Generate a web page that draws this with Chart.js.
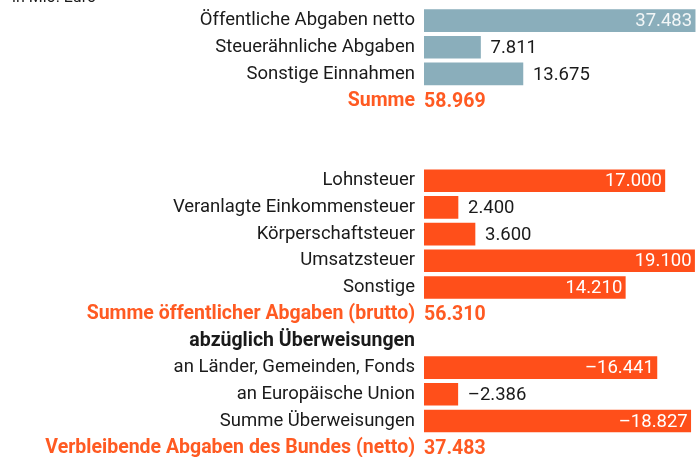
<!DOCTYPE html>
<html><head><meta charset="utf-8">
<script src="https://cdn.jsdelivr.net/npm/chart.js@4.4.0/dist/chart.umd.min.js"></script>
<style>
html,body{margin:0;padding:0;background:#fff;overflow:hidden;width:696px;height:457px;}
#c{position:absolute;left:0;top:-22px;width:696px;height:483px;}
</style></head><body>
<canvas id="c" width="696" height="483"></canvas>
<script>
// Categories (rows, top to bottom)
const categories = [
  "Öffentliche Abgaben netto",
  "Steuerähnliche Abgaben",
  "Sonstige Einnahmen",
  "Summe",
  "",
  "",
  "Lohnsteuer",
  "Veranlagte Einkommensteuer",
  "Körperschaftsteuer",
  "Umsatzsteuer",
  "Sonstige",
  "Summe öffentlicher Abgaben (brutto)",
  "abzüglich Überweisungen",
  "an Länder, Gemeinden, Fonds",
  "an Europäische Union",
  "Summe Überweisungen",
  "Verbleibende Abgaben des Bundes (netto)"
];
// Einnahmen (Mio. Euro), top block
const einnahmen = [37483, 7811, 13675, null, null, null, null, null, null, null, null, null, null, null, null, null, null];
// Steuern und Überweisungen (Mio. Euro), bottom block
const steuern = [null, null, null, null, null, null, 17000, 2400, 3600, 19100, 14210, null, null, -16441, -2386, -18827, null];
// Summenzeilen (no bar, value printed as text)
const summen = [null, null, null, 58969, null, null, null, null, null, null, null, 56310, null, null, null, null, 37483];
const headingLabel = "abzüglich Überweisungen";
const unitLabel = "in Mio. Euro";

const BLUE = "#8aaebb", ORANGE = "#ff4f1a", ORANGE_TXT = "#ff5a22", TXT = "#1a1a1a";
const FONT = "Roboto";
const FS = 18.5, FSB = 19.5;

function fmt(v){
  const s = Math.abs(v).toLocaleString('de-DE');
  return (v < 0 ? "\u2013" : "") + s;
}

const labelPlugin = {
  id: 'valueLabels',
  afterDatasetsDraw(chart){
    const ctx = chart.ctx, area = chart.chartArea;
    ctx.save();
    ctx.textBaseline = 'middle';
    ctx.font = `normal ${FS}px ${FONT}`;
    const raws = [einnahmen, steuern];
    chart.data.datasets.forEach((ds, di) => {
      const meta = chart.getDatasetMeta(di);
      meta.data.forEach((bar, i) => {
        const v = raws[di][i];
        if (v == null) return;
        const t = fmt(v);
        const len = bar.x - bar.base;
        if (len > (area.right - area.left) * 0.5) {
          ctx.fillStyle = di === 0 ? "#f2f6f7" : "#ffffff";
          ctx.textAlign = 'right';
          ctx.fillText(t, bar.x - 3, bar.y + 1);
        } else {
          ctx.fillStyle = TXT;
          ctx.textAlign = 'left';
          ctx.fillText(t, bar.x + 10, bar.y + 1);
        }
      });
    });
    ctx.font = `bold ${FSB}px ${FONT}`;
    ctx.fillStyle = ORANGE_TXT;
    ctx.textAlign = 'left';
    const ys = chart.scales.y;
    summen.forEach((v, i) => {
      if (v == null) return;
      ctx.fillText(fmt(v), area.left, ys.getPixelForValue(i) + 1);
    });
    ctx.restore();
  }
};

new Chart(document.getElementById('c'), {
  type: 'bar',
  data: {
    labels: categories,
    datasets: [
      { data: einnahmen.map(v => v == null ? null : Math.abs(v)), xAxisID: 'x', backgroundColor: BLUE, barThickness: 22, grouped: false },
      { data: steuern.map(v => v == null ? null : Math.abs(v)), xAxisID: 'x2', backgroundColor: ORANGE, barThickness: 22, grouped: false }
    ]
  },
  options: {
    indexAxis: 'y',
    responsive: false,
    maintainAspectRatio: false,
    animation: false,
    devicePixelRatio: 1,
    layout: { padding: { left: 12, right: 0, top: 0, bottom: 0 } },
    plugins: {
      legend: { display: false },
      tooltip: { enabled: false },
      title: {
        display: true, text: unitLabel, align: 'start', color: TXT,
        font: { family: FONT, size: 16, weight: 'normal', lineHeight: 1.2 },
        padding: { top: 10, bottom: 0 }
      }
    },
    scales: {
      y: {
        type: 'category',
        grid: { display: false, drawTicks: false },
        border: { display: false },
        ticks: {
          autoSkip: false,
          padding: 9,
          color: c => summen[c.index] != null ? ORANGE_TXT : TXT,
          font: c => {
            const b = summen[c.index] != null || categories[c.index] === headingLabel;
            return { family: FONT, size: b ? FSB : FS, weight: b ? 'bold' : 'normal' };
          }
        },
        afterFit(s){ s.width = 424 - 12; s.paddingTop = 0; s.paddingBottom = 0; }
      },
      x: { display: false, min: 0, max: 37600 },
      x2: { display: false, axis: 'x', min: 0, max: 19200 }
    }
  },
  plugins: [labelPlugin]
});
</script>
</body></html>
